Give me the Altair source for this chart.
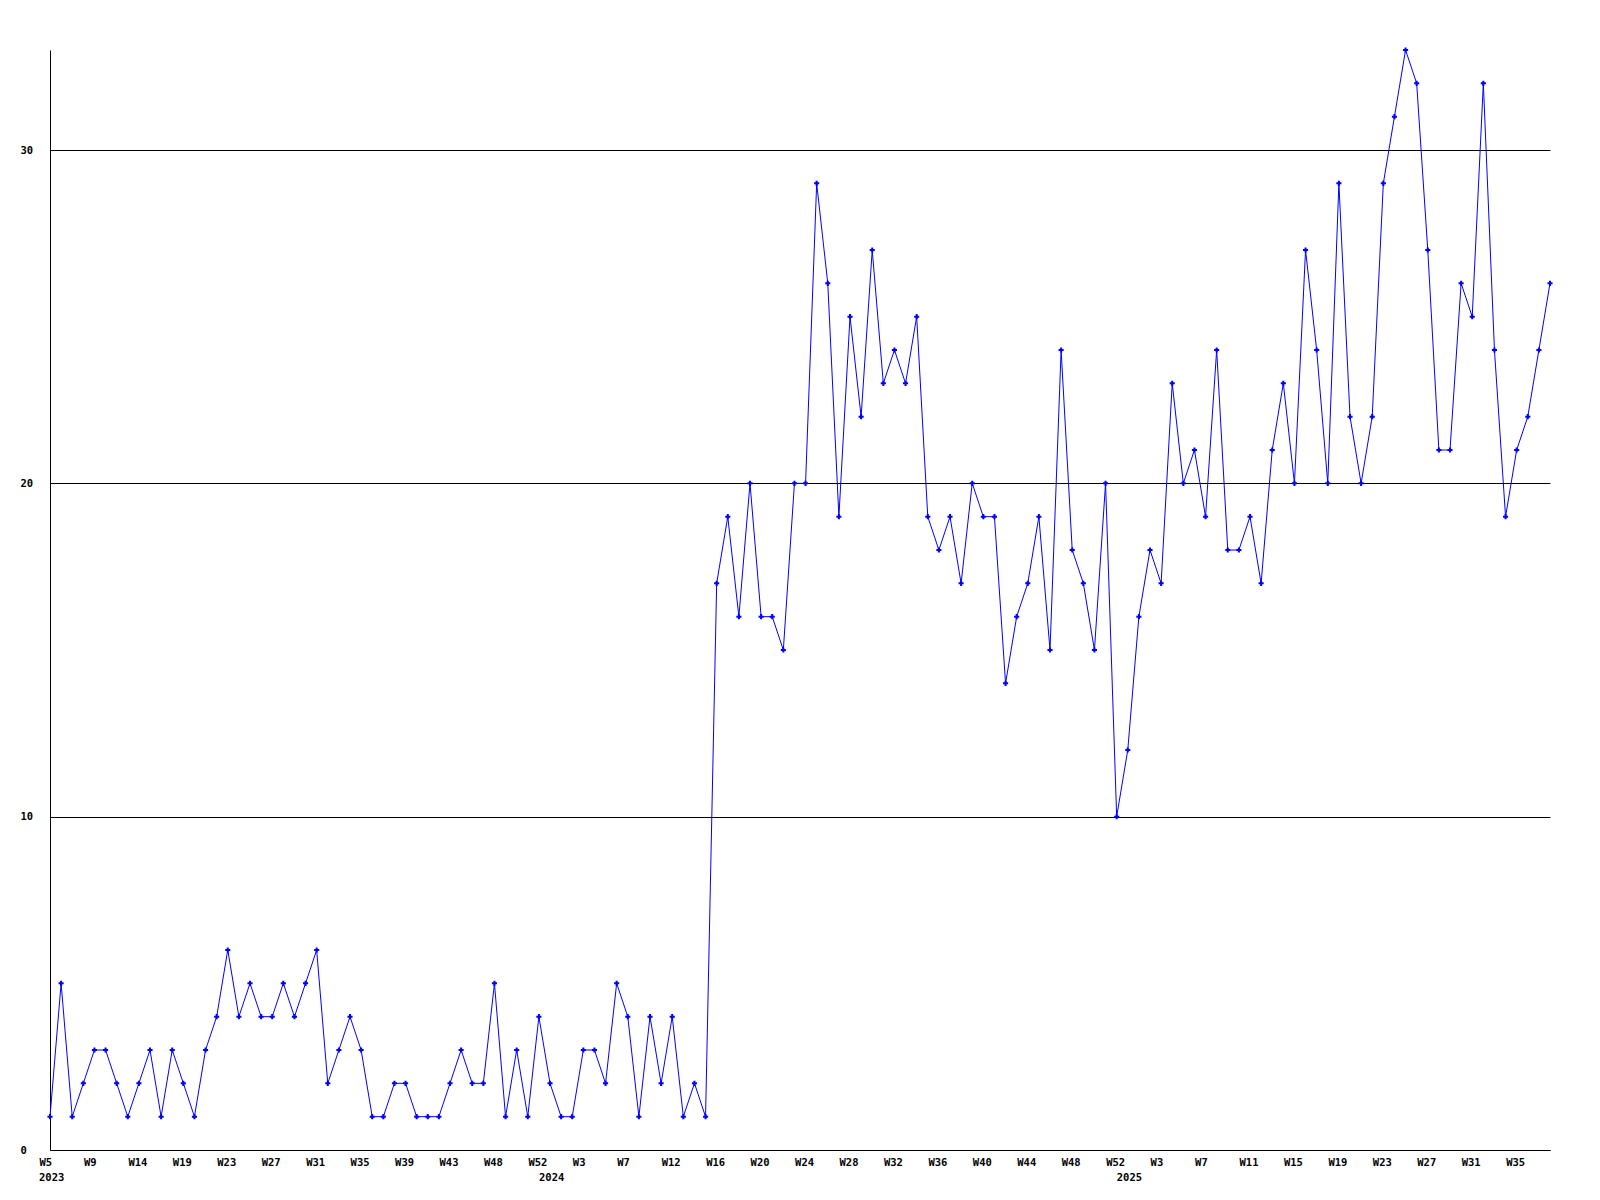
import json
import altair as alt
import pandas as pd

values = [1, 5, 1, 2, 3, 3, 2, 1, 2, 3,
          1, 3, 2, 1, 3, 4, 6, 4, 5, 4,
          4, 5, 4, 5, 6, 2, 3, 4, 3, 1,
          1, 2, 2, 1, 1, 1, 2, 3, 2, 2,
          5, 1, 3, 1, 4, 2, 1, 1, 3, 3,
          2, 5, 4, 1, 4, 2, 4, 1, 2, 1,
          17, 19, 16, 20, 16, 16, 15, 20, 20, 29,
          26, 19, 25, 22, 27, 23, 24, 23, 25, 19,
          18, 19, 17, 20, 19, 19, 14, 16, 17, 19,
          15, 24, 18, 17, 15, 20, 10, 12, 16, 18,
          17, 23, 20, 21, 19, 24, 18, 18, 19, 17,
          21, 23, 20, 27, 24, 20, 29, 22, 20, 22,
          29, 31, 33, 32, 27, 21, 21, 26, 25, 32,
          24, 19, 21, 22, 24, 26]

week_labels = ["W5", "W9", "W14", "W19", "W23", "W27", "W31", "W35", "W39", "W43",
               "W48", "W52", "W3", "W7", "W12", "W16", "W20", "W24", "W28", "W32",
               "W36", "W40", "W44", "W48", "W52", "W3", "W7", "W11", "W15", "W19",
               "W23", "W27", "W31", "W35"]
tick_index = list(range(0, 4 * len(week_labels), 4))

year_labels = ["2023", "2024", "2025"]
year_index = [0, 45, 97]

y_ticks = [0, 10, 20, 30]

df = pd.DataFrame({"idx": list(range(len(values))), "count": values})
years = pd.DataFrame({"idx": year_index, "year": year_labels})

FONT = "DejaVu Sans Mono"
W, H = 1500, 1100

x_scale = alt.Scale(domain=[0, len(values) - 1], nice=False, zero=False)
y_scale = alt.Scale(domain=[0, 33], nice=False)

label_expr = json.dumps(week_labels) + "[round(datum.value / 4)]"

x_axis = alt.Axis(values=tick_index, labelExpr=label_expr, ticks=False, grid=False,
                  domainColor="black", domainWidth=1, labelAlign="left", labelOffset=-11,
                  labelPadding=7, labelBaseline="top", labelFont=FONT, labelFontSize=10.5,
                  labelFontWeight="bold", labelColor="black", labelOverlap=False,
                  labelFlush=False, title=None)
y_axis = alt.Axis(values=y_ticks, ticks=False, grid=True, gridColor="black", gridOpacity=1,
                  gridWidth=1, domainColor="black", domainWidth=1, labelAlign="left",
                  labelPadding=30, labelBaseline="middle", labelFont=FONT, labelFontSize=10.5,
                  labelFontWeight="bold", labelColor="black", title=None)

line = alt.Chart(df).mark_line(color="#0000ff", strokeWidth=1).encode(
    x=alt.X("idx:Q", scale=x_scale, axis=x_axis),
    y=alt.Y("count:Q", scale=y_scale, axis=y_axis),
)
points = alt.Chart(df).mark_point(shape="cross", filled=True, size=26, color="#0000ff", opacity=1).encode(
    x=alt.X("idx:Q", scale=x_scale),
    y=alt.Y("count:Q", scale=y_scale),
)
year_text = alt.Chart(years).mark_text(align="left", baseline="top", dx=-11, font=FONT,
                                        fontSize=10.5, fontWeight="bold", color="black").encode(
    x=alt.X("idx:Q", scale=x_scale),
    y=alt.value(H + 23),
    text="year:N",
)

chart = alt.layer(line, points, year_text).properties(
    width=W, height=H,
    padding={"left": 42, "top": 42, "right": 30, "bottom": 40},
    autosize=alt.AutoSizeParams(type="none"),
    background="white",
).configure_view(stroke=None)

chart.save("out.html", embed_options={"renderer": "svg", "actions": False})
